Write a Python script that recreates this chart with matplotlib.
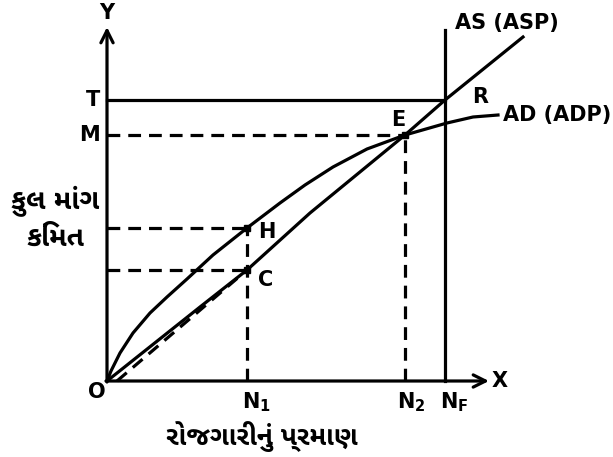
"""Keynes employment diagram: aggregate demand and aggregate supply."""
import matplotlib
matplotlib.use('Agg')
import matplotlib.pyplot as plt
from matplotlib import font_manager
from matplotlib.ft2font import FT2Font

plt.rcParams['mathtext.fontset'] = 'custom'
plt.rcParams['mathtext.rm'] = 'DejaVu Sans:bold'
plt.rcParams['mathtext.it'] = 'DejaVu Sans:bold'
plt.rcParams['mathtext.bf'] = 'DejaVu Sans:bold'

# employment levels on the x axis
n_labels = ['N$_1$', 'N$_2$', 'N$_F$']
n_values = [140, 298, 338]

# price levels on the y axis
price_labels = ['T', 'M']
price_values = [281, 246]
h_value = 153
c_value = 111

# aggregate supply (ASP) curve
as_x = [0, 93, 140, 203, 298, 338, 416]
as_y = [0, 74, 111, 168, 246, 281, 344]

# aggregate demand (ADP) curve
ad_x = [0, 4, 13, 26, 43, 60, 80, 106, 140, 173, 198, 226, 260, 298, 340,
        366, 391]
ad_y = [0, 10, 28, 48, 68, 84, 102, 126, 153, 178, 196, 214, 232, 246, 258,
        264, 266]

y_title = 'કુલ માંગ\nકિંમત'
x_title = 'રોજગારીનું પ્રમાણ'


def gujarati_font():
    """Pick an installed family that covers the Gujarati titles."""
    need = set(ord(c) for c in y_title + x_title if not c.isspace())
    names = {}
    for f in font_manager.fontManager.ttflist:
        try:
            n = len(need & set(FT2Font(f.fname).get_charmap()))
        except Exception:
            continue
        names[f.name] = max(n, names.get(f.name, 0))
    for pref in ('Noto Sans Gujarati UI', 'Noto Sans Gujarati'):
        if names.get(pref, 0) == len(need):
            return pref
    if names:
        return max(names, key=names.get)
    return 'DejaVu Sans'


guj = gujarati_font()
lab = dict(family='DejaVu Sans', fontweight='bold', fontsize=15)

fig = plt.figure(figsize=(6.13, 4.57), dpi=100)
ax = fig.add_axes([0, 0, 1, 1])
ax.set_xlim(-107, 506)
ax.set_ylim(-76, 381)
ax.axis('off')

lw = 2.3
dash = (0, (4, 2.5))

# axes with arrows
ax.annotate('', xy=(0, 354), xytext=(0, -1),
            arrowprops=dict(arrowstyle='->', lw=lw, color='black',
                            mutation_scale=22, shrinkA=0, shrinkB=0))
ax.annotate('', xy=(382, 0), xytext=(-1, 0),
            arrowprops=dict(arrowstyle='->', lw=lw, color='black',
                            mutation_scale=22, shrinkA=0, shrinkB=0))

# full employment line and T level
ax.plot([n_values[2], n_values[2]], [0, 351], color='black', lw=lw)
ax.plot([0, n_values[2]], [price_values[0]] * 2, color='black', lw=lw)

# dashed guides
ax.plot([0, n_values[1]], [price_values[1]] * 2, color='black', lw=lw, ls=dash)
ax.plot([n_values[1]] * 2, [0, price_values[1]], color='black', lw=lw, ls=dash)
ax.plot([0, n_values[0]], [h_value] * 2, color='black', lw=lw, ls=dash)
ax.plot([0, n_values[0]], [c_value] * 2, color='black', lw=lw, ls=dash)
ax.plot([n_values[0]] * 2, [0, h_value], color='black', lw=lw, ls=dash)
ax.plot([10, n_values[0]], [0, c_value], color='black', lw=lw, ls=dash)

# curves
ax.plot(as_x, as_y, color='black', lw=lw, solid_joinstyle='round')
ax.plot(ad_x, ad_y, color='black', lw=lw, solid_joinstyle='round')
ax.plot([n_values[0], n_values[0], n_values[1]],
        [h_value, c_value, price_values[1]], 's', color='black', ms=4)

# labels
ax.text(0, 368, 'Y', ha='center', va='center', **lab)
ax.text(393, 0, 'X', ha='center', va='center', **lab)
ax.text(-10, -11, 'O', ha='center', va='center', **lab)
for name, v in zip(price_labels, price_values):
    ax.text(-7, v, name, ha='right', va='center', **lab)
ax.text(135, -21, n_labels[0], ha='left', va='center', **lab)
ax.text(290, -21, n_labels[1], ha='left', va='center', **lab)
ax.text(333, -21, n_labels[2], ha='left', va='center', **lab)
ax.text(151, 149, 'H', ha='left', va='center', **lab)
ax.text(151, 101, 'C', ha='left', va='center', **lab)
ax.text(291, 261, 'E', ha='center', va='center', **lab)
ax.text(373, 284, 'R', ha='center', va='center', **lab)
ax.text(348, 358, 'AS (ASP)', ha='left', va='center', **lab)
ax.text(396, 266, 'AD (ADP)', ha='left', va='center', **lab)

ax.text(-52, 162, y_title, ha='center', va='center', fontsize=20,
        fontweight='bold', family=[guj, 'DejaVu Sans'], linespacing=1.3)
ax.text(155, -56, x_title, ha='center', va='center', fontsize=19,
        fontweight='bold', family=[guj, 'DejaVu Sans'])

fig.savefig('out.png', dpi=100)
plt.close(fig)
